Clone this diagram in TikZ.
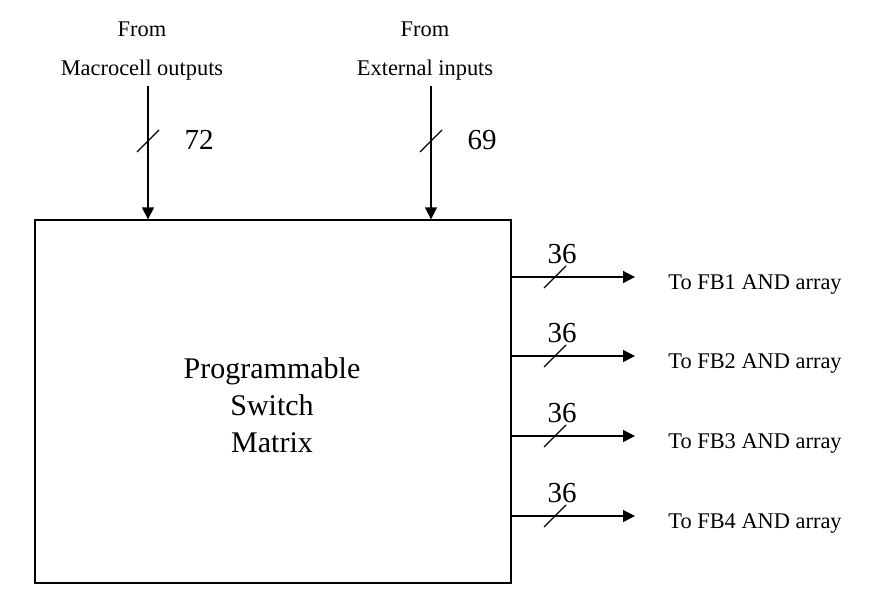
\documentclass[tikz,border=0pt]{standalone}
\usepackage{fontspec}
\setmainfont{Liberation Serif}
\usetikzlibrary{arrows.meta}
\tikzset{
  ln/.style={line width=0.65pt},
  arr/.style={ln,-{Triangle[length=6pt,width=6pt]}},
  small/.style={font=\fontsize{11.2}{13}\selectfont, anchor=base, inner sep=0pt},
  num/.style={font=\fontsize{14.5}{17}\selectfont, anchor=base, inner sep=0pt},
}
\begin{document}
\begin{tikzpicture}[x=0.5pt,y=-0.5pt]
\useasboundingbox (0,0) rectangle (881,594);
% main box
\node[ln,draw,minimum width=238pt,minimum height=181.5pt,inner sep=0pt] (box) at (273,401.5) {};
\node[align=center,font=\fontsize{15}{18.5}\selectfont,inner sep=0pt] (lbl) at (272,405)
  {Programmable\\Switch\\Matrix};
% inputs
\node[small] (f1) at (142,36) {From};
\node[small] (m1) at (142,75) {Macrocell outputs};
\node[small] (f2) at (425,36) {From};
\node[small] (m2) at (425,75) {External inputs};
\coordinate (i1) at (148,86);
\coordinate (i2) at (431,86);
\draw[arr] (i1) -- (i1 |- box.north);
\draw[arr] (i2) -- (i2 |- box.north);
\coordinate (s1) at (148,141);
\coordinate (s2) at (431,141);
\draw[ln] ([shift={(-11,11)}]s1) -- ([shift={(11,-11)}]s1);
\draw[ln] ([shift={(-11,11)}]s2) -- ([shift={(11,-11)}]s2);
\node[num] (n72) at (199,149) {72};
\node[num] (n69) at (482,149) {69};
% outputs
\foreach \k/\y in {1/277,2/356,3/436,4/516}{
  \coordinate (o\k s) at (511,\y);
  \coordinate (o\k e) at (635,\y);
  \coordinate (o\k m) at (555,\y);
  \draw[arr] (o\k s) -- (o\k e);
  \draw[ln] ([shift={(-11,11)}]o\k m) -- ([shift={(11,-11)}]o\k m);
  \node[num] (n\k) at (562,\y-14) {36};
  \node[small,anchor=base west] (t\k) at (668,\y+12) {To FB\k{} AND array};
}
\end{tikzpicture}
\end{document}
